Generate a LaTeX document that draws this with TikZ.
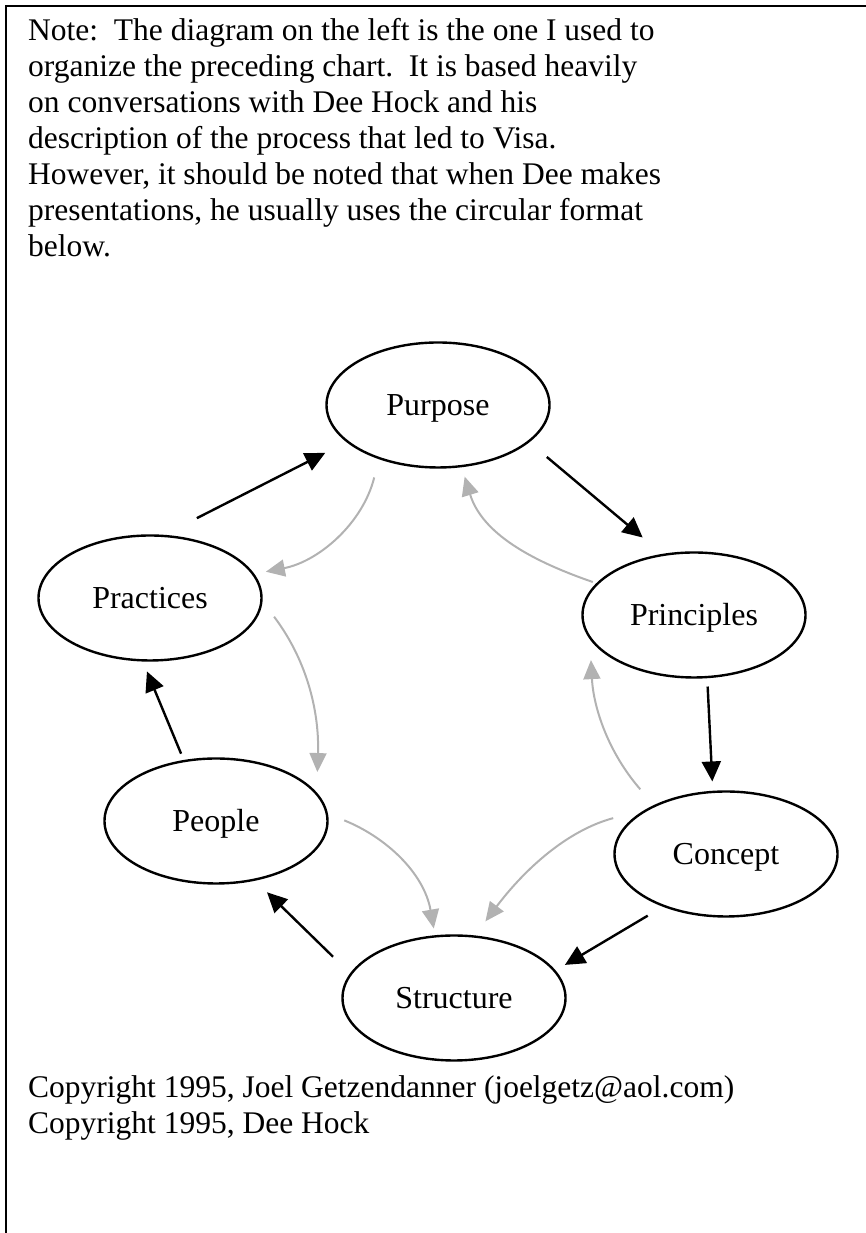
\documentclass[tikz,border=0pt]{standalone}
\usepackage{fontspec}
\setmainfont{Liberation Serif}
\usetikzlibrary{arrows.meta}
\usetikzlibrary{shapes.geometric}

\definecolor{lightarr}{gray}{0.7}

\tikzset{
  txt/.style={inner sep=0pt, align=left, anchor=base west, font=\fontsize{31.5}{36}\selectfont},
  stage/.style={draw, ellipse, line width=2.4pt, minimum width=223pt, minimum height=125pt,
    inner sep=0pt, outer sep=0pt, text height=22pt, text depth=0pt, font=\fontsize{32}{36}\selectfont},
  fwd/.style={line width=2.4pt, -{Triangle[length=20pt,width=19pt]}},
  back/.style={line width=2pt, lightarr, -{Triangle[length=19pt,width=17pt]}},
}

\begin{document}
\begin{tikzpicture}[x=1pt,y=1pt]
            \useasboundingbox (0,0) rectangle (866,1233);
            \draw[line width=2.4pt] (6,0) -- (6,1227) -- (866,1227);

            \node[txt] (note) at (28,976) {Note:\ \ The diagram on the left is the one I used to\\
              organize the preceding chart.\ \ It is based heavily\\
              on conversations with Dee Hock and his\\
              description of the process that led to Visa.\\
              However, it should be noted that when Dee makes\\
              presentations, he usually uses the circular format\\
              below.};
            \node[txt] (copy) at (28,99) {Copyright 1995, Joel Getzendanner (joelgetz@aol.com)\\
              Copyright 1995, Dee Hock};

            \node[stage] (purpose) at (438,828) {Purpose};
            \node[stage] (principles) at (694,618) {Principles};
            \node[stage] (concept) at (726,379) {Concept};
            \node[stage] (structure) at (454,235) {Structure};
            \node[stage] (people) at (216,412) {People};
            \node[stage] (practices) at (150,635) {Practices};

            \draw[fwd, shorten <=39pt, shorten >=25pt] (practices.79) to (purpose.202);
            \draw[fwd, shorten <=24pt, shorten >=27pt] (purpose.338) to (principles.117);
            \draw[fwd, shorten <=9.5pt, shorten >=10.5pt] (principles.282) to (concept.102);
            \draw[fwd, shorten <=19pt, shorten >=12pt] (concept.220) to (structure.15);
            \draw[fwd, shorten <=25pt, shorten >=18pt] (structure.167) to (people.303);
            \draw[fwd, shorten <=8pt, shorten >=12pt] (people.118) to (practices.263);

            \draw[back, shorten <=20pt, shorten >=13pt] (purpose.222) to[out=256, in=11] (practices.13);
            \draw[back, shorten <=5pt, shorten >=11pt] (principles.162) to[out=161, in=287] (purpose.291);
            \draw[back, shorten <=21pt, shorten >=22pt] (practices.359) to[out=307, in=88] (people.15);
            \draw[back, shorten <=22pt, shorten >=23pt] (concept.146) to[out=131, in=273] (principles.192);
            \draw[back, shorten <=38pt, shorten >=19pt] (concept.149) to[out=195, in=53] (structure.72);
            \draw[back, shorten <=19pt, shorten >=8pt] (people.4) to[out=338, in=100] (structure.107);
        \end{tikzpicture}
\end{document}
